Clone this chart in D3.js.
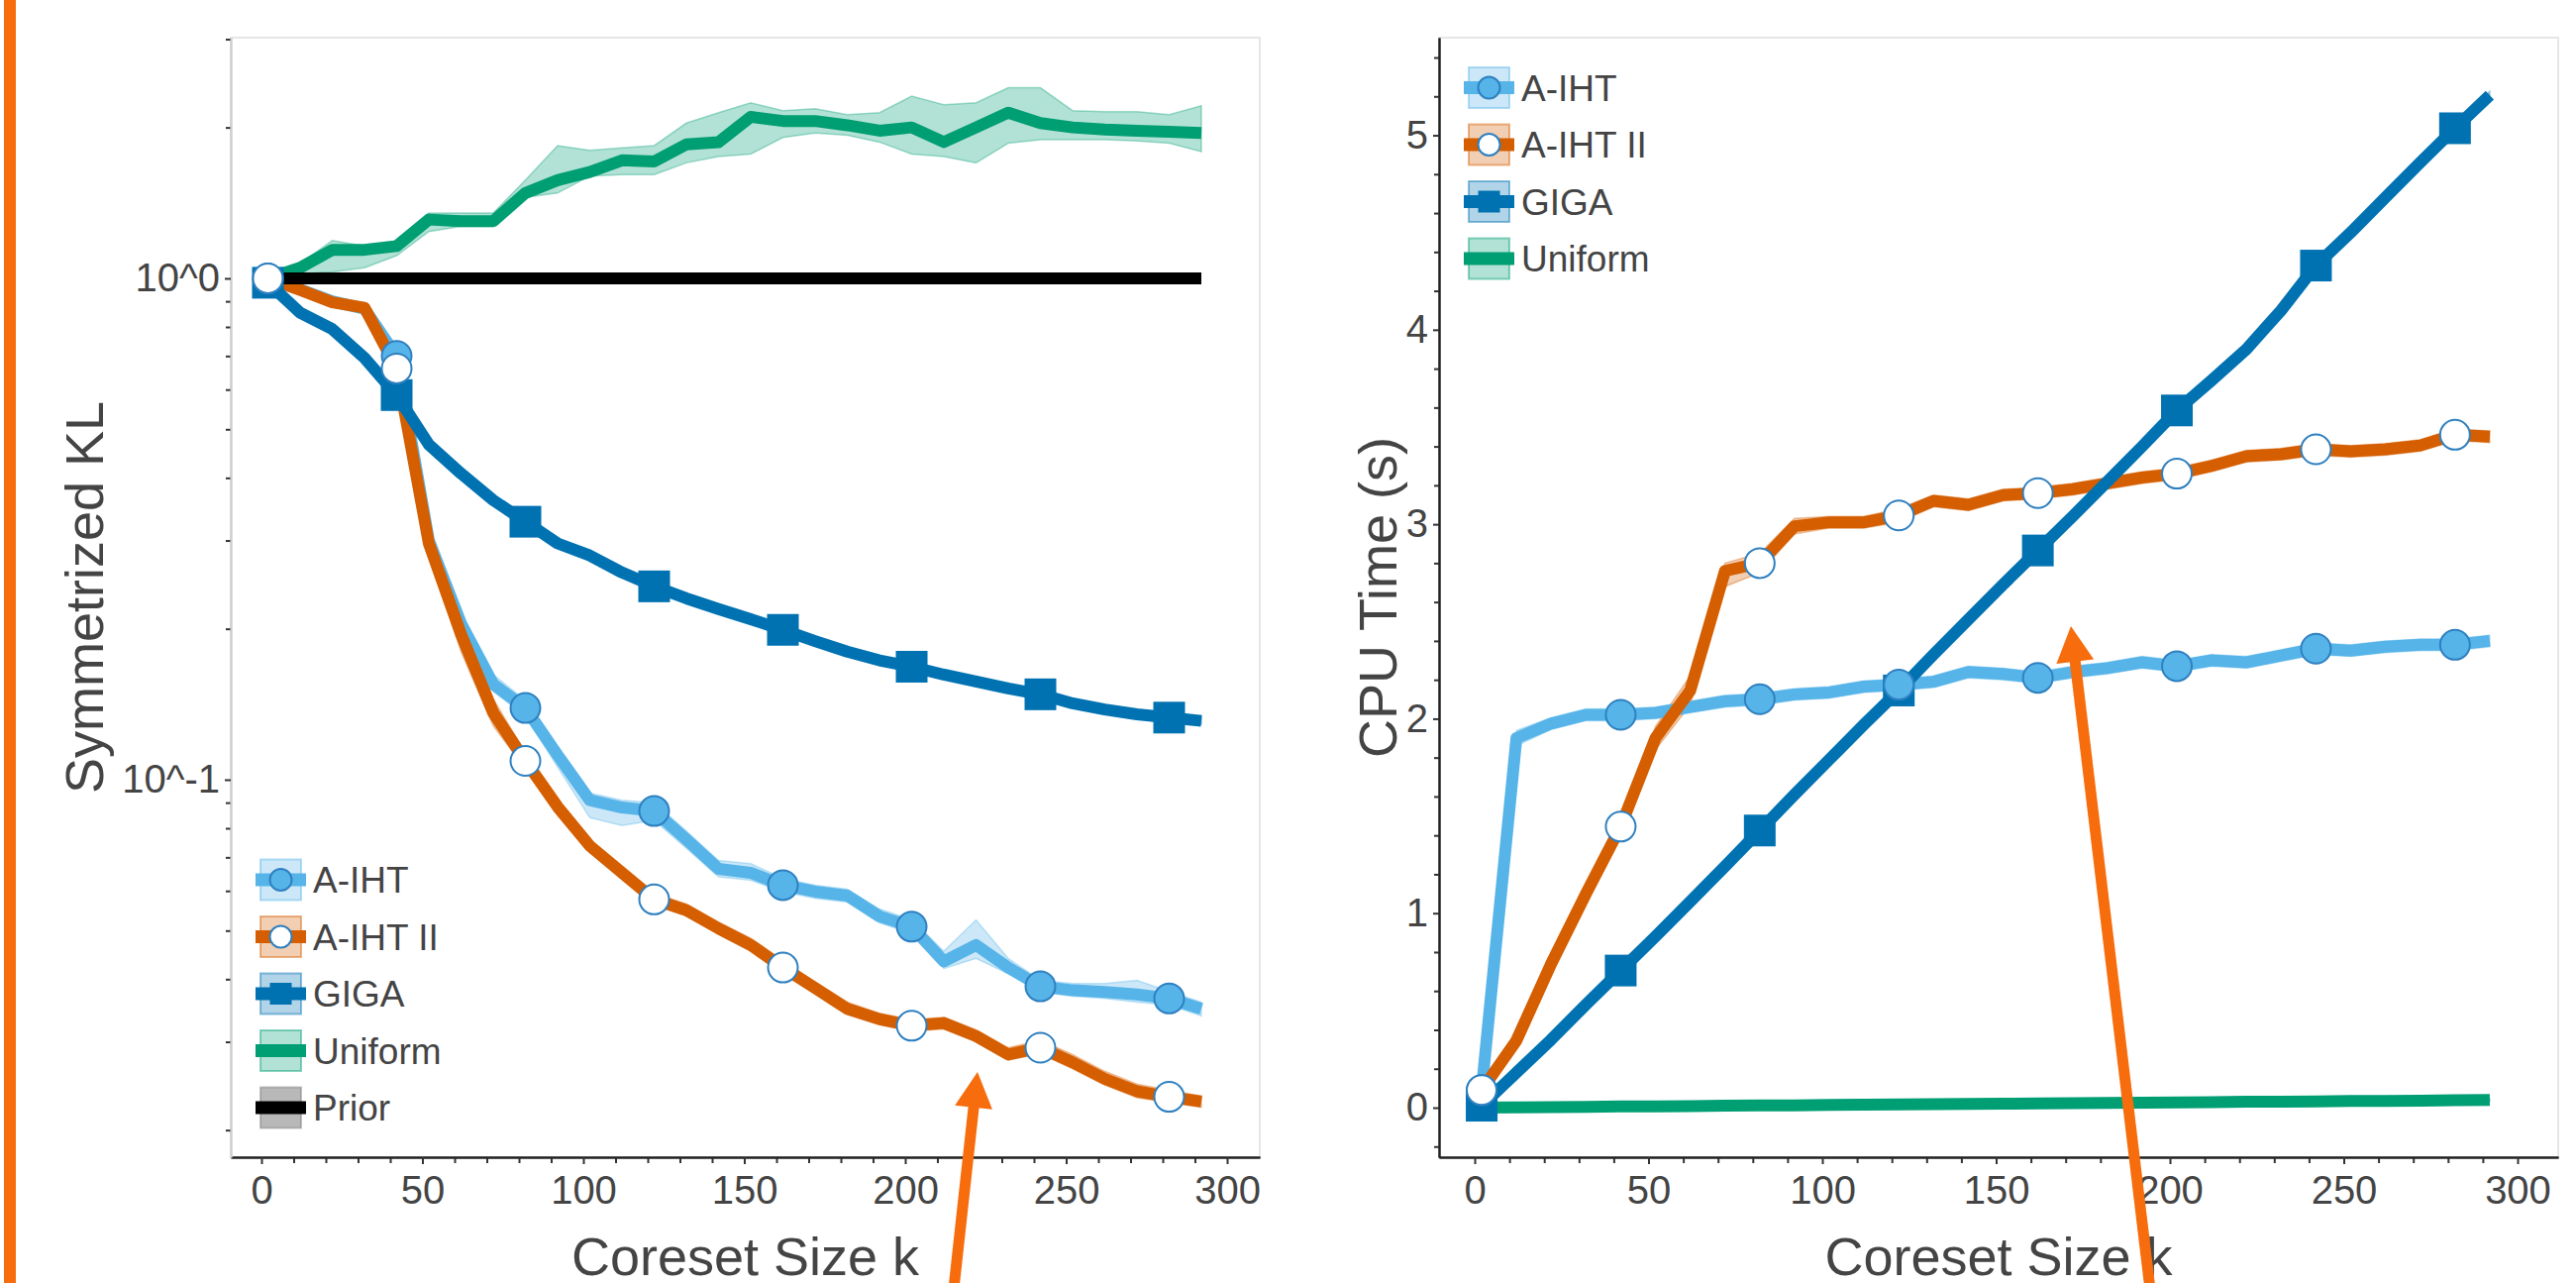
<!DOCTYPE html>
<html>
<head>
<meta charset="utf-8">
<script src="https://cdnjs.cloudflare.com/ajax/libs/d3/7.8.5/d3.min.js"></script>
<style>
  body { margin: 0; background: #fff; }
  svg text { font-family: "Liberation Sans", Arial, Helvetica, sans-serif; }
</style>
</head>
<body>
<svg id="chart"></svg>
<script>

// coreset sizes (x values shared by every series)
var sizes = [2,12,22,32,42,52,62,72,82,92,102,112,122,132,142,152,162,172,182,192,202,212,222,232,242,252,262,272,282,292];
var markEvery = 4;

var seriesNames = ["A-IHT", "A-IHT II", "GIGA", "Uniform", "Prior"];
var seriesColors = ["#56B4E9", "#D55E00", "#0072B2", "#009E73", "#000000"];

// symmetrized KL (left panel)
var klAiht   = [1.00,0.95,0.90,0.87,0.70,0.30,0.205,0.155,0.139,0.112,0.091,0.088,0.0866,0.076,0.0664,0.0652,0.0616,0.0598,0.0587,0.0534,0.0509,0.0434,0.0468,0.0422,0.0387,0.0380,0.0377,0.0373,0.0366,0.0349];
var klAihtLo = [1.00,0.94,0.89,0.86,0.68,0.29,0.198,0.150,0.134,0.106,0.084,0.081,0.083,0.073,0.064,0.063,0.0598,0.0580,0.0570,0.0518,0.0494,0.0420,0.0440,0.0410,0.0377,0.0370,0.0366,0.0360,0.0355,0.0338];
var klAihtHi = [1.00,0.96,0.91,0.89,0.72,0.31,0.212,0.162,0.144,0.116,0.094,0.091,0.090,0.079,0.069,0.068,0.0636,0.0616,0.0605,0.0552,0.0526,0.0455,0.0525,0.0440,0.0398,0.0392,0.0392,0.0398,0.0378,0.0360];

var klAiht2   = [1.00,0.948,0.896,0.874,0.661,0.296,0.195,0.136,0.109,0.0883,0.0738,0.0652,0.0577,0.0549,0.0505,0.0468,0.0422,0.0384,0.0349,0.0333,0.0323,0.0327,0.0308,0.0283,0.0292,0.0273,0.0253,0.0239,0.0233,0.0228];
var klAiht2Lo = [1.00,0.94,0.885,0.86,0.645,0.285,0.180,0.128,0.105,0.085,0.0715,0.0635,0.0562,0.0535,0.0492,0.0455,0.0410,0.0374,0.0340,0.0324,0.0315,0.0318,0.0300,0.0276,0.0284,0.0265,0.0246,0.0232,0.0227,0.0222];
var klAiht2Hi = [1.00,0.956,0.905,0.885,0.675,0.305,0.215,0.145,0.113,0.091,0.076,0.067,0.0594,0.0565,0.0520,0.0483,0.0436,0.0395,0.0360,0.0342,0.0332,0.0336,0.0317,0.0292,0.0302,0.0283,0.0262,0.0247,0.0240,0.0234];

var klGiga   = [0.98,0.854,0.792,0.694,0.585,0.466,0.408,0.361,0.327,0.296,0.280,0.259,0.243,0.230,0.219,0.209,0.199,0.189,0.180,0.173,0.168,0.162,0.157,0.152,0.148,0.142,0.138,0.135,0.133,0.131];
var klGigaLo = [0.97,0.84,0.78,0.683,0.575,0.458,0.401,0.355,0.322,0.291,0.275,0.255,0.239,0.226,0.216,0.206,0.196,0.186,0.177,0.170,0.165,0.159,0.154,0.150,0.145,0.140,0.136,0.133,0.131,0.129];
var klGigaHi = [0.99,0.868,0.805,0.705,0.595,0.475,0.415,0.367,0.332,0.301,0.285,0.263,0.247,0.234,0.223,0.212,0.202,0.192,0.183,0.176,0.171,0.165,0.160,0.155,0.150,0.144,0.140,0.137,0.135,0.133];

var klUniform   = [1.00,1.05,1.14,1.14,1.16,1.31,1.30,1.30,1.48,1.57,1.63,1.72,1.71,1.85,1.87,2.10,2.06,2.06,2.02,1.97,2.00,1.87,2.00,2.14,2.04,2.00,1.98,1.97,1.96,1.95];
var klUniformLo = [1.00,1.02,1.03,1.05,1.11,1.24,1.27,1.27,1.45,1.48,1.60,1.61,1.61,1.70,1.75,1.77,1.91,1.95,1.93,1.87,1.77,1.75,1.70,1.86,1.89,1.89,1.89,1.88,1.86,1.79];
var klUniformHi = [1.00,1.07,1.19,1.16,1.17,1.35,1.35,1.35,1.57,1.84,1.80,1.82,1.84,2.04,2.14,2.24,2.16,2.18,2.12,2.14,2.31,2.22,2.24,2.40,2.40,2.16,2.15,2.15,2.12,2.21];

var klPrior = [1,1,1,1,1,1,1,1,1,1,1,1,1,1,1,1,1,1,1,1,1,1,1,1,1,1,1,1,1,1];

// CPU time in seconds (right panel)
var cpuAiht   = [0.09,1.90,1.975,2.02,2.02,2.03,2.06,2.09,2.10,2.125,2.135,2.165,2.175,2.19,2.24,2.23,2.21,2.24,2.26,2.29,2.27,2.30,2.29,2.325,2.36,2.35,2.37,2.38,2.38,2.40];
var cpuAihtLo = [0.07,1.86,1.945,1.99,1.99,2.00,2.03,2.06,2.07,2.095,2.105,2.135,2.145,2.16,2.21,2.20,2.18,2.21,2.23,2.26,2.24,2.27,2.26,2.295,2.33,2.32,2.34,2.35,2.35,2.37];
var cpuAihtHi = [0.11,1.94,2.005,2.05,2.05,2.06,2.09,2.12,2.13,2.155,2.165,2.195,2.205,2.22,2.27,2.26,2.24,2.27,2.29,2.32,2.30,2.33,2.32,2.355,2.39,2.38,2.40,2.41,2.41,2.43];

var cpuAiht2   = [0.09,0.345,0.74,1.10,1.445,1.90,2.145,2.76,2.80,2.99,3.01,3.01,3.045,3.12,3.10,3.15,3.16,3.18,3.21,3.24,3.26,3.30,3.35,3.36,3.385,3.375,3.385,3.405,3.46,3.45];
var cpuAiht2Lo = [0.07,0.31,0.70,1.05,1.40,1.84,2.07,2.68,2.75,2.95,2.98,2.98,3.01,3.09,3.07,3.12,3.13,3.15,3.18,3.21,3.23,3.27,3.32,3.33,3.355,3.345,3.355,3.375,3.43,3.42];
var cpuAiht2Hi = [0.11,0.38,0.78,1.15,1.49,1.96,2.22,2.80,2.85,3.03,3.04,3.04,3.08,3.15,3.13,3.18,3.19,3.21,3.24,3.27,3.29,3.33,3.38,3.39,3.415,3.405,3.415,3.435,3.49,3.48];

var cpuGiga   = [0.01,0.18,0.35,0.53,0.705,0.88,1.06,1.24,1.425,1.61,1.79,1.97,2.145,2.33,2.51,2.69,2.865,3.04,3.22,3.40,3.585,3.74,3.90,4.10,4.33,4.50,4.68,4.86,5.036,5.206];
var cpuGigaLo = [-0.01,0.16,0.33,0.51,0.685,0.86,1.04,1.22,1.405,1.59,1.77,1.95,2.125,2.31,2.49,2.67,2.845,3.02,3.20,3.38,3.565,3.72,3.88,4.08,4.31,4.48,4.66,4.84,5.016,5.186];
var cpuGigaHi = [0.03,0.20,0.37,0.55,0.725,0.90,1.08,1.26,1.445,1.63,1.81,1.99,2.165,2.35,2.53,2.71,2.885,3.06,3.24,3.42,3.605,3.76,3.92,4.12,4.35,4.52,4.70,4.88,5.056,5.226];

var cpuUniform   = [0.000,0.001,0.003,0.004,0.006,0.007,0.008,0.010,0.011,0.012,0.014,0.015,0.016,0.018,0.019,0.020,0.022,0.023,0.024,0.026,0.027,0.028,0.030,0.031,0.032,0.034,0.035,0.036,0.038,0.039];
var cpuUniformLo = [-0.008,-0.007,-0.005,-0.004,-0.002,-0.001,0.000,0.002,0.003,0.004,0.006,0.007,0.008,0.010,0.011,0.012,0.014,0.015,0.016,0.018,0.019,0.020,0.022,0.023,0.024,0.026,0.027,0.028,0.030,0.031];
var cpuUniformHi = [0.008,0.009,0.011,0.012,0.014,0.015,0.016,0.018,0.019,0.020,0.022,0.023,0.024,0.026,0.027,0.028,0.030,0.031,0.032,0.034,0.035,0.036,0.038,0.039,0.040,0.042,0.043,0.044,0.046,0.047];

// ticks
var sizeTicks = [0,50,100,150,200,250,300];
var sizeMinorTicks = [10,20,30,40,60,70,80,90,110,120,130,140,160,170,180,190,210,220,230,240,260,270,280,290];
var klTicks = [0.1, 1];
var klTickLabels = ["10^-1", "10^0"];
var klMinorTicks = [0.02,0.03,0.04,0.05,0.06,0.07,0.08,0.09,0.2,0.3,0.4,0.5,0.6,0.7,0.8,0.9,2,3];
var cpuTicks = [0,1,2,3,4,5];
var cpuMinorTicks = [-0.2,0.2,0.4,0.6,0.8,1.2,1.4,1.6,1.8,2.2,2.4,2.6,2.8,3.2,3.4,3.6,3.8,4.2,4.4,4.6,4.8,5.2,5.4];


var W = 2601, H = 1295;
var svg = d3.select("#chart").attr("width", W).attr("height", H);
svg.append("rect").attr("width", W).attr("height", H).attr("fill", "#fff");

function build(mean, lo, hi) {
  return sizes.map(function(k, i) { return {k: k, v: mean[i], lo: lo ? lo[i] : mean[i], hi: hi ? hi[i] : mean[i], i: i}; });
}

var klSeries = [
  {name: 0, data: build(klAiht, klAihtLo, klAihtHi), marker: "circle"},
  {name: 1, data: build(klAiht2, klAiht2Lo, klAiht2Hi), marker: "open"},
  {name: 2, data: build(klGiga, klGigaLo, klGigaHi), marker: "square"},
  {name: 3, data: build(klUniform, klUniformLo, klUniformHi), marker: null},
  {name: 4, data: build(klPrior), marker: null}
];
var cpuSeries = [
  {name: 0, data: build(cpuAiht, cpuAihtLo, cpuAihtHi), marker: "circle"},
  {name: 1, data: build(cpuAiht2, cpuAiht2Lo, cpuAiht2Hi), marker: "open"},
  {name: 2, data: build(cpuGiga, cpuGigaLo, cpuGigaHi), marker: "square"},
  {name: 3, data: build(cpuUniform, cpuUniformLo, cpuUniformHi), marker: null}
];

function styleAxis(a, lineColor) {
  a.attr("font-size", 40).attr("font-family", null);
  a.select(".domain").attr("stroke", lineColor).attr("stroke-width", 2);
  a.selectAll(".tick line").attr("stroke", "#333").attr("stroke-width", 2);
  a.selectAll(".tick text").attr("fill", "#444");
}

function drawMarker(sel, type, color, r) {
  if (type == "square") {
    sel.append("rect")
      .attr("x", -r).attr("y", -r).attr("width", 2 * r).attr("height", 2 * r)
      .attr("fill", color);
  } else {
    sel.append("circle").attr("r", r)
      .attr("fill", type == "open" ? "#fff" : color)
      .attr("stroke", "#2f80c0").attr("stroke-width", 2);
  }
}

function panel(opt) {
  var g = svg.append("g").attr("transform", "translate(" + opt.left + "," + opt.top + ")");
  var x = d3.scaleLinear().domain(opt.xDomain).range([0, opt.width]);
  var y = opt.y.range([opt.height, 0]);

  // light frame on top / right
  g.append("rect").attr("width", opt.width).attr("height", opt.height)
    .attr("fill", "none").attr("stroke", "#e6e6e6").attr("stroke-width", 2);

  // bands
  var area = d3.area().x(function(d) { return x(d.k); })
    .y0(function(d) { return y(d.lo); }).y1(function(d) { return y(d.hi); });
  g.selectAll(".band").data(opt.series).enter().append("path")
    .attr("class", "band")
    .attr("d", function(s) { return area(s.data); })
    .attr("fill", function(s) { return seriesColors[s.name]; })
    .attr("fill-opacity", 0.3)
    .attr("stroke", function(s) { return seriesColors[s.name]; })
    .attr("stroke-opacity", 0.35).attr("stroke-width", 1.5);

  // lines
  var line = d3.line().x(function(d) { return x(d.k); }).y(function(d) { return y(d.v); });
  g.selectAll(".serie").data(opt.series).enter().append("path")
    .attr("class", "serie")
    .attr("d", function(s) { return line(s.data); })
    .attr("fill", "none")
    .attr("stroke", function(s) { return seriesColors[s.name]; })
    .attr("stroke-width", 12)
    .attr("stroke-linejoin", "round");

  // markers: squares first, then filled circles, open circles on top
  ["square", "circle", "open"].forEach(function(type) {
    opt.series.filter(function(s) { return s.marker == type; }).forEach(function(s) {
      g.selectAll(null).data(s.data.filter(function(d) { return d.i % markEvery == 0; }))
        .enter().append("g")
        .attr("transform", function(d) { return "translate(" + x(d.k) + "," + y(d.v) + ")"; })
        .each(function() { drawMarker(d3.select(this), type, seriesColors[s.name], type == "square" ? 16 : 15); });
    });
  });

  // x axis
  var gx = g.append("g").attr("transform", "translate(0," + opt.height + ")")
    .call(d3.axisBottom(x).tickValues(sizeMinorTicks).tickSize(6).tickSizeOuter(0).tickFormat(""));
  styleAxis(gx, "#222");
  var gx2 = g.append("g").attr("transform", "translate(0," + opt.height + ")")
    .call(d3.axisBottom(x).tickValues(sizeTicks).tickSize(7).tickSizeOuter(0).tickPadding(12));
  styleAxis(gx2, "#222");

  // y axis
  var gy = g.append("g").call(d3.axisLeft(y).tickValues(opt.yMinor).tickSize(5).tickSizeOuter(0).tickFormat(""));
  styleAxis(gy, opt.yLineColor);
  var gy2 = g.append("g").call(d3.axisLeft(y).tickValues(opt.yTicks).tickSize(6).tickSizeOuter(0).tickPadding(5).tickFormat(opt.yFormat));
  styleAxis(gy2, opt.yLineColor);

  // axis titles
  g.append("text")
    .attr("x", opt.width / 2).attr("y", opt.height + 119)
    .attr("text-anchor", "middle").attr("font-size", 54).attr("fill", "#444")
    .text("Coreset Size k");
  g.append("text")
    .attr("transform", "translate(" + opt.yTitleX + "," + (opt.height / 2) + ") rotate(-90)")
    .attr("text-anchor", "middle").attr("font-size", 54).attr("fill", "#444")
    .text(opt.yTitle);

  // legend
  var lg = g.append("g").attr("transform", "translate(30," + opt.legendTop + ")");
  var item = lg.selectAll(".item").data(opt.series).enter().append("g")
    .attr("class", "item")
    .attr("transform", function(s, i) { return "translate(0," + (i * 57.5) + ")"; });
  item.append("rect")
    .attr("x", 0).attr("y", -20.5).attr("width", 41).attr("height", 41)
    .attr("fill", function(s) { return s.name == 4 ? "#888" : seriesColors[s.name]; })
    .attr("fill-opacity", function(s) { return s.name == 4 ? 0.6 : 0.3; })
    .attr("stroke", function(s) { return s.name == 4 ? "#777" : seriesColors[s.name]; })
    .attr("stroke-opacity", 0.45).attr("stroke-width", 2);
  item.append("line")
    .attr("x1", -5).attr("x2", 46).attr("y1", 0).attr("y2", 0)
    .attr("stroke", function(s) { return seriesColors[s.name]; })
    .attr("stroke-width", 13);
  item.each(function(s) {
    if (s.marker) {
      var m = d3.select(this).append("g").attr("transform", "translate(20.5,0)");
      drawMarker(m, s.marker, seriesColors[s.name], 11);
    }
  });
  item.append("text")
    .attr("x", 53).attr("y", 13)
    .attr("font-size", 37).attr("fill", "#444")
    .text(function(s) { return seriesNames[s.name]; });
}

panel({
  left: 233, top: 38, width: 1039, height: 1130,
  xDomain: [-9.54, 310.15],
  y: d3.scaleLog().domain([0.01766, 3.021]),
  yTicks: klTicks, yMinor: klMinorTicks,
  yFormat: function(d, i) { return klTickLabels[i]; },
  yLineColor: "#cfcfcf",
  yTitle: "Symmetrized KL", yTitleX: -129,
  series: klSeries, legendTop: 850
});

panel({
  left: 1453, top: 38, width: 1130, height: 1130,
  xDomain: [-10.26, 311.68],
  y: d3.scaleLinear().domain([-0.2547, 5.502]),
  yTicks: cpuTicks, yMinor: cpuMinorTicks,
  yFormat: d3.format("d"),
  yLineColor: "#222",
  yTitle: "CPU Time (s)", yTitleX: -43,
  series: cpuSeries, legendTop: 50.5
});

// orange annotations drawn over the figure
var annotColor = "#f76c0c";
svg.append("rect").attr("x", 4).attr("y", -30).attr("width", 12).attr("height", H + 60)
  .attr("rx", 6).attr("fill", annotColor);

var arrows = [
  {from: [962, 1310], to: [987, 1082]},
  {from: [2172, 1310], to: [2091, 632]}
];
arrows.forEach(function(a) {
  var dx = a.to[0] - a.from[0], dy = a.to[1] - a.from[1];
  var len = Math.sqrt(dx * dx + dy * dy), ux = dx / len, uy = dy / len;
  var headLen = 36, headW = 19;
  var bx = a.to[0] - ux * headLen, by = a.to[1] - uy * headLen;
  svg.append("line")
    .attr("x1", a.from[0]).attr("y1", a.from[1]).attr("x2", bx + ux * 2).attr("y2", by + uy * 2)
    .attr("stroke", annotColor).attr("stroke-width", 11);
  svg.append("path")
    .attr("d", "M" + a.to[0] + "," + a.to[1] +
      "L" + (bx - uy * headW) + "," + (by + ux * headW) +
      "L" + (bx + uy * headW) + "," + (by - ux * headW) + "Z")
    .attr("fill", annotColor);
});

</script>
</body>
</html>
